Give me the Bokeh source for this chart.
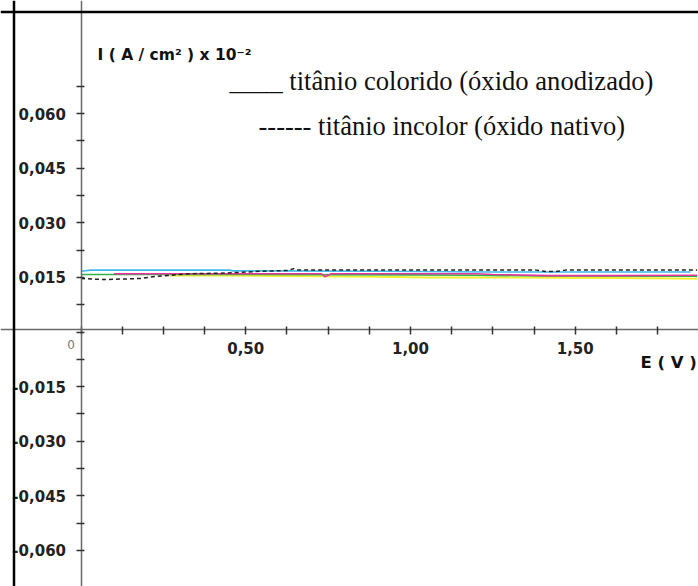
from bokeh.plotting import figure
from bokeh.models import Range1d, LinearAxis, FixedTicker, Span, Label
from bokeh.embed import file_html
from bokeh.resources import INLINE

# ---------------- data (E in V, I in A/cm^2 x 10^-2) ----------------
cyan_E = [0.0, 0.03, 0.45, 0.46, 0.90, 1.25, 1.50, 1.85]
cyan_I = [0.0167, 0.0170, 0.0170, 0.0168, 0.0167, 0.0165, 0.0165, 0.0165]

dash_E = [0.0, 0.07, 0.18, 0.23, 0.33, 0.44, 0.55, 0.63, 0.645, 0.66, 1.00, 1.38, 1.41, 1.44, 1.47, 1.87]
dash_I = [0.0147, 0.0144, 0.0147, 0.0153, 0.0160, 0.0162, 0.0167, 0.0169, 0.0174, 0.0170, 0.0170, 0.0170, 0.0166, 0.0166, 0.0170, 0.0170]

magenta_E = [0.10, 0.73, 0.74, 0.76, 1.20, 1.25, 1.42, 1.60, 1.87]
magenta_I = [0.0160, 0.0160, 0.0152, 0.0160, 0.0160, 0.0158, 0.0155, 0.0155, 0.0156]

green_E = [0.0, 0.50, 1.00, 1.20, 1.40, 1.87]
green_I = [0.0158, 0.0158, 0.0157, 0.0156, 0.0154, 0.0153]

yellow_E = [0.27, 0.42, 0.90, 1.05, 1.30, 1.75, 1.87]
yellow_I = [0.0155, 0.0155, 0.0152, 0.0150, 0.0150, 0.0148, 0.0146]

x_tick_values = [0.0, 0.125, 0.25, 0.375, 0.5, 0.625, 0.75, 0.875, 1.0, 1.125, 1.25, 1.375, 1.5, 1.625, 1.75]
x_tick_labels = ["", "", "", "", "0,50", "", "", "", "1,00", "", "", "", "1,50", "", ""]

y_tick_values = [-0.06, -0.0525, -0.045, -0.0375, -0.03, -0.0225, -0.015, -0.0075, 0.0,
                 0.0075, 0.015, 0.0225, 0.03, 0.0375, 0.045, 0.0525, 0.06, 0.0675]
y_tick_labels = ["-0,060", "", "-0,045", "", "-0,030", "", "-0,015", "", "",
                 "", "0,015", "", "0,030", "", "0,045", "", "0,060", ""]

y_title = "I ( A / cm² ) x 10⁻²"
x_title = "E ( V )"
legend_1 = "____ titânio colorido (óxido anodizado)"
legend_2 = "------ titânio incolor (óxido nativo)"

# ---------------- layout helpers (picture px -> data) ----------------
X0_PX, XSCALE = 80.5, 329.5
Y0_PX, YSCALE = 331.5, 3640.0
W, H = 698, 586

def ex(px):
    return (px - X0_PX) / XSCALE

def iy(py):
    return (Y0_PX - py) / YSCALE

p = figure(width=W, height=H,
           x_range=Range1d(ex(0), ex(W)), y_range=Range1d(iy(H), iy(0)),
           x_axis_location=None, y_axis_location=None,
           toolbar_location=None, output_backend="svg",
           min_border=0, outline_line_color=None,
           background_fill_color="white", border_fill_color="white")
p.xgrid.visible = False
p.ygrid.visible = False

# axes crossing at origin
yaxis = LinearAxis(fixed_location=0.0,
                   ticker=FixedTicker(ticks=y_tick_values, minor_ticks=[]))
yaxis.major_label_overrides = {v: l for v, l in zip(y_tick_values, y_tick_labels)}
xaxis = LinearAxis(fixed_location=0.0007,
                   ticker=FixedTicker(ticks=x_tick_values, minor_ticks=[]))
xaxis.major_label_overrides = {v: l for v, l in zip(x_tick_values, x_tick_labels)}

for ax in (xaxis, yaxis):
    ax.axis_line_color = "#6a6a6a"
    ax.axis_line_width = 1.5
    ax.major_tick_line_color = "#333333"
    ax.major_tick_line_width = 1.5
    ax.major_tick_in = 3
    ax.major_tick_out = 5
    ax.major_label_text_font = "DejaVu Sans"
    ax.major_label_text_font_style = "bold"
    ax.major_label_text_font_size = "15px"
    ax.major_label_text_color = "#222222"
yaxis.major_label_standoff = 10
xaxis.major_label_standoff = 8

p.add_layout(yaxis, "left")
p.add_layout(xaxis, "below")

# curves
p.line(yellow_E, yellow_I, line_color="#f0f032", line_width=2)
p.line(green_E, green_I, line_color="#2db34a", line_width=1.6)
p.line(magenta_E, magenta_I, line_color="#e8359b", line_width=1.6)
p.line(cyan_E, cyan_I, line_color="#3fb8ea", line_width=1.6)
p.line(dash_E, dash_I, line_color="#222222", line_width=1.5, line_dash="4 3")

# frame borders (left and top)
p.add_layout(Span(location=ex(13.5), dimension="height", line_color="black", line_width=2.5))
p.add_layout(Span(location=iy(11.5), dimension="width", line_color="black", line_width=2.5))

# texts
p.add_layout(Label(x=ex(97), y=iy(54), text=y_title, text_align="left",
                   text_baseline="alphabetic", text_font="DejaVu Sans",
                   text_font_style="bold", text_font_size="15.5px", text_color="#111111"))
p.add_layout(Label(x=ex(640), y=iy(362), text=x_title, text_align="left",
                   text_baseline="alphabetic", text_font="DejaVu Sans",
                   text_font_style="bold", text_font_size="16.5px", text_color="#111111"))
p.add_layout(Label(x=0.0, y=iy(344), x_offset=-10, text="0", text_align="center",
                   text_baseline="alphabetic", text_font="DejaVu Sans",
                   text_font_size="12px", text_color="#777777"))
p.add_layout(Label(x=ex(229), y=iy(80), text=legend_1, text_align="left",
                   text_baseline="alphabetic", text_font="Liberation Serif",
                   text_font_size="26.6px", text_color="#111111"))
p.add_layout(Label(x=ex(258), y=iy(125), text=legend_2, text_align="left",
                   text_baseline="alphabetic", text_font="Liberation Serif",
                   text_font_size="26.5px", text_color="#111111"))

open("out.html", "w").write(file_html(p, INLINE))
